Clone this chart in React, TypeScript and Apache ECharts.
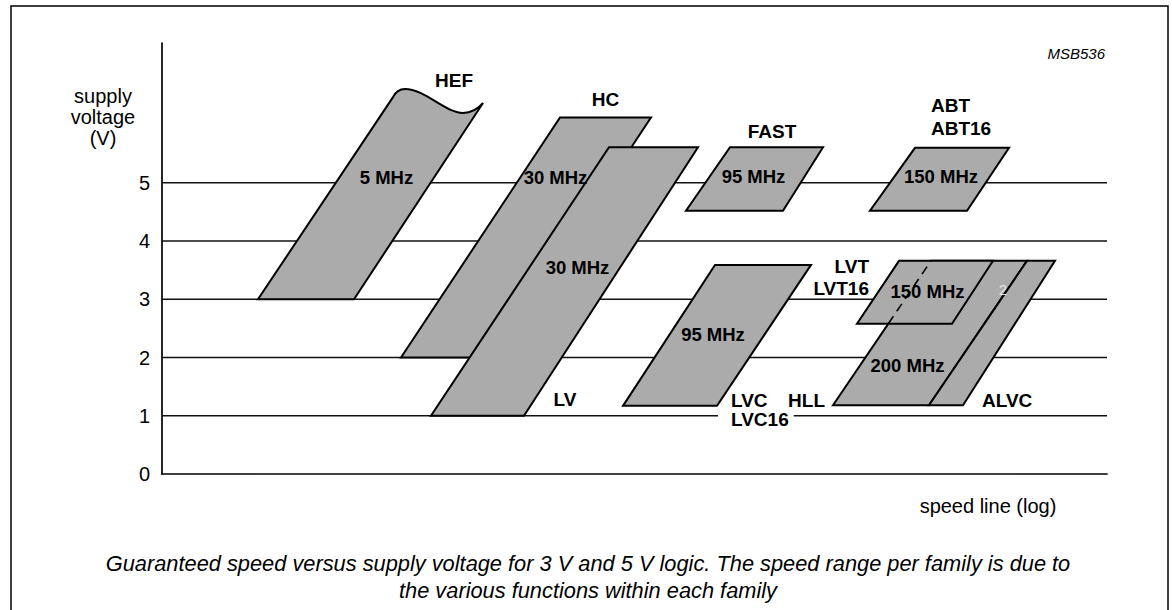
import React, { useEffect, useRef } from "react";
import * as echarts from "echarts";

// ---- axes (x is an arbitrary log-speed scale, y is supply voltage) ----
const X_MAX = 945;
const Y_MAX = 7.4;
const VOLT_TICKS = [0, 1, 2, 3, 4, 5];
const GRID_LEVELS = [1, 2, 3, 4, 5];

// ---- family regions: corners as [speed, volts] ----
const HEF_OUTLINE: (string | number)[][] = [
  ["M", 96, 3],
  ["L", 192, 3],
  ["L", 321, 6.37],
  ["Q", 313, 6.2, 301, 6.2],
  ["C", 283, 6.2, 263, 6.61, 243, 6.61],
  ["Q", 235, 6.61, 231, 6.47],
  ["Z"],
];
const HC_SHAPE = [[239, 2.0], [330, 2.0], [489, 6.12], [398, 6.12]];
const LV_SHAPE = [[269, 1.0], [362, 1.0], [536, 5.61], [447, 5.61]];
const FAST_SHAPE = [[524, 4.52], [621, 4.52], [661, 5.61], [568, 5.61]];
const ABT_SHAPE = [[708, 4.52], [805, 4.52], [847, 5.6], [753, 5.6]];
const LVC_SHAPE = [[461, 1.17], [555, 1.17], [649, 3.59], [553, 3.59]];
const HLL_SHAPE = [[671, 1.18], [767, 1.18], [865, 3.66], [769, 3.66]];
const ALVC_SHAPE = [[767, 1.18], [801, 1.18], [893, 3.66], [865, 3.66]];
const LVT_SHAPE = [[695, 2.58], [790, 2.58], [831, 3.66], [737, 3.66]];

const SHAPES = [HC_SHAPE, LV_SHAPE, FAST_SHAPE, ABT_SHAPE, LVC_SHAPE, HLL_SHAPE, ALVC_SHAPE, LVT_SHAPE];

// ---- labels ----
const FAMILY_NAMES = ["HEF", "HC", "LV", "FAST", "ABT", "ABT16", "LVT", "LVT16", "LVC", "HLL", "ALVC"];
const FAMILY_POS = [
  [292, 6.76], [443.5, 6.43], [403, 1.28], [610, 5.88], [769, 6.32], [769, 5.93],
  [707, 3.56], [707, 3.18], [569, 1.27], [663, 1.27], [820, 1.27],
];
const FAMILY_ALIGN = ["center", "center", "center", "center", "left", "left", "right", "right", "left", "right", "left"];
const LVC16_LABEL = "LVC16";
const LVC16_POS = [556, 0.93];

const SPEED_LABELS = ["5 MHz", "30 MHz", "30 MHz", "95 MHz", "150 MHz", "95 MHz", "150 MHz", "200 MHz"];
const SPEED_POS = [
  [224.5, 5.09], [393.5, 5.09], [415.5, 3.54], [591.5, 5.1], [779, 5.1], [551, 2.4], [765.5, 3.13], [745.5, 1.87],
];
const FAINT_MARK = "2";
const FAINT_POS = [841, 3.16];

const Y_TITLE = "supply\nvoltage\n(V)";
const X_TITLE = "speed line (log)";
const FIG_ID = "MSB536";
const CAPTION =
  "Guaranteed speed versus supply voltage for 3 V and 5 V logic. The speed range per family is due to\nthe various functions within each family";

const FONT = '"Liberation Sans", Arial, Helvetica, sans-serif';
const FILL = "#ababab";

function buildPath(cmds: (string | number)[][], api: any) {
  return cmds
    .map((c) => {
      const op = c[0] as string;
      const nums = c.slice(1) as number[];
      const pts: string[] = [];
      for (let i = 0; i < nums.length; i += 2) {
        const p = api.coord([nums[i], nums[i + 1]]);
        pts.push(p[0].toFixed(2) + " " + p[1].toFixed(2));
      }
      return op + (pts.length ? " " + pts.join(" ") : "");
    })
    .join(" ");
}

export default function App() {
  const ref = useRef<HTMLDivElement>(null);
  useEffect(() => {
    const chart = echarts.init(ref.current!, null, { renderer: "svg" });
    const shapeStyle = { fill: FILL, stroke: "#000", lineWidth: 2, lineJoin: "miter" };

    const option: any = {
      animation: false,
      backgroundColor: "#fff",
      grid: { left: 162, right: 65, top: 43, bottom: 136, containLabel: false },
      xAxis: {
        type: "value",
        min: 0,
        max: X_MAX,
        axisLine: { show: true, lineStyle: { color: "#000", width: 1.7 } },
        axisTick: { show: false },
        axisLabel: { show: false },
        splitLine: { show: false },
      },
      yAxis: {
        type: "value",
        min: 0,
        max: Y_MAX,
        interval: 1,
        axisLine: { show: true, lineStyle: { color: "#000", width: 1.7 } },
        axisTick: { show: false },
        splitLine: { show: false },
        axisLabel: {
          margin: 12,
          color: "#000",
          fontFamily: FONT,
          fontSize: 20,
          formatter: (v: number) => (VOLT_TICKS.indexOf(v) >= 0 ? String(v) : ""),
        },
      },
      graphic: [
        {
          type: "rect",
          shape: { x: 11, y: 6, width: 1157, height: 700 },
          style: { fill: "none", stroke: "#000", lineWidth: 1.5 },
          silent: true,
        },
        {
          type: "text",
          x: 103,
          y: 85,
          style: {
            text: Y_TITLE,
            align: "center",
            verticalAlign: "top",
            fontFamily: FONT,
            fontSize: 20,
            lineHeight: 21,
            fill: "#000",
          },
        },
        {
          type: "text",
          x: 1105,
          y: 53,
          style: {
            text: FIG_ID,
            align: "right",
            verticalAlign: "middle",
            fontFamily: FONT,
            fontSize: 15,
            fontStyle: "italic",
            fill: "#000",
          },
        },
        {
          type: "text",
          x: 988,
          y: 506,
          style: {
            text: X_TITLE,
            align: "center",
            verticalAlign: "middle",
            fontFamily: FONT,
            fontSize: 20,
            fill: "#000",
          },
        },
        {
          type: "text",
          x: 588,
          y: 550,
          style: {
            text: CAPTION,
            align: "center",
            verticalAlign: "top",
            fontFamily: FONT,
            fontSize: 21.8,
            fontStyle: "italic",
            lineHeight: 27,
            fill: "#000",
          },
        },
      ],
      series: [
        {
          type: "custom",
          name: "grid",
          z: 1,
          clip: false,
          silent: true,
          data: GRID_LEVELS.map((v) => [0, v]),
          renderItem: (params: any, api: any) => {
            const v = GRID_LEVELS[params.dataIndex];
            const a = api.coord([0, v]);
            const b = api.coord([X_MAX, v]);
            return {
              type: "line",
              shape: { x1: a[0], y1: a[1], x2: b[0], y2: b[1] },
              style: { stroke: "#111", lineWidth: 1.4 },
            };
          },
        },
        {
          type: "custom",
          name: "HEF",
          z: 2,
          clip: false,
          silent: true,
          data: [[0, 0]],
          renderItem: (_params: any, api: any) => ({
            type: "path",
            shape: { pathData: buildPath(HEF_OUTLINE, api) },
            style: shapeStyle,
          }),
        },
        {
          type: "custom",
          name: "families",
          z: 3,
          clip: false,
          silent: true,
          data: SHAPES.map((_s, i) => [i, 0]),
          renderItem: (params: any, api: any) => {
            const s = SHAPES[params.dataIndex];
            return {
              type: "polygon",
              shape: { points: s.map((p) => api.coord(p)) },
              style: shapeStyle,
            };
          },
        },
        {
          type: "custom",
          name: "hidden edge",
          z: 4,
          clip: false,
          silent: true,
          data: [[0, 0]],
          renderItem: (_params: any, api: any) => {
            // HLL left edge seen through the LVT region
            const b = HLL_SHAPE[0];
            const t = HLL_SHAPE[3];
            const lo = LVT_SHAPE[0][1];
            const hi = LVT_SHAPE[3][1];
            const at = (v: number) => b[0] + ((t[0] - b[0]) * (v - b[1])) / (t[1] - b[1]);
            const p1 = api.coord([at(lo), lo]);
            const p2 = api.coord([at(hi), hi]);
            return {
              type: "line",
              shape: { x1: p1[0], y1: p1[1], x2: p2[0], y2: p2[1] },
              style: { stroke: "#000", lineWidth: 1.6, lineDash: [9, 6] },
            };
          },
        },
        {
          type: "custom",
          name: "labels",
          z: 5,
          clip: false,
          silent: true,
          data: FAMILY_NAMES.map((_n, i) => [i, 0]),
          renderItem: (params: any, api: any) => {
            const i = params.dataIndex;
            const p = api.coord(FAMILY_POS[i]);
            return {
              type: "text",
              x: p[0],
              y: p[1],
              style: {
                text: FAMILY_NAMES[i],
                align: FAMILY_ALIGN[i],
                verticalAlign: "middle",
                fontFamily: FONT,
                fontWeight: "bold",
                fontSize: 19,
                fill: "#000",
              },
            };
          },
        },
        {
          type: "custom",
          name: "LVC16",
          z: 5,
          clip: false,
          silent: true,
          data: [[0, 0]],
          renderItem: (_params: any, api: any) => {
            const p = api.coord(LVC16_POS);
            return {
              type: "text",
              x: p[0],
              y: p[1],
              style: {
                text: LVC16_LABEL,
                align: "left",
                verticalAlign: "middle",
                fontFamily: FONT,
                fontWeight: "bold",
                fontSize: 19,
                fill: "#000",
                backgroundColor: "#fff",
                padding: [1, 5, 1, 13],
              },
            };
          },
        },
        {
          type: "custom",
          name: "speeds",
          z: 5,
          clip: false,
          silent: true,
          data: SPEED_LABELS.map((_n, i) => [i, 0]),
          renderItem: (params: any, api: any) => {
            const i = params.dataIndex;
            const p = api.coord(SPEED_POS[i]);
            return {
              type: "text",
              x: p[0],
              y: p[1],
              style: {
                text: SPEED_LABELS[i],
                align: "center",
                verticalAlign: "middle",
                fontFamily: FONT,
                fontWeight: "bold",
                fontSize: 18.5,
                fill: "#000",
              },
            };
          },
        },
        {
          type: "custom",
          name: "faint",
          z: 5,
          clip: false,
          silent: true,
          data: [[0, 0]],
          renderItem: (_params: any, api: any) => {
            const p = api.coord(FAINT_POS);
            return {
              type: "text",
              x: p[0],
              y: p[1],
              style: {
                text: FAINT_MARK,
                align: "center",
                verticalAlign: "middle",
                fontFamily: FONT,
                fontSize: 15,
                fill: "#e6e6e6",
              },
            };
          },
        },
      ],
    };
    chart.setOption(option);
    return () => chart.dispose();
  }, []);
  return (
    <div
      ref={ref}
      style={{ position: "absolute", left: 0, top: 0, width: 1172, height: 610, background: "#fff" }}
    />
  );
}
